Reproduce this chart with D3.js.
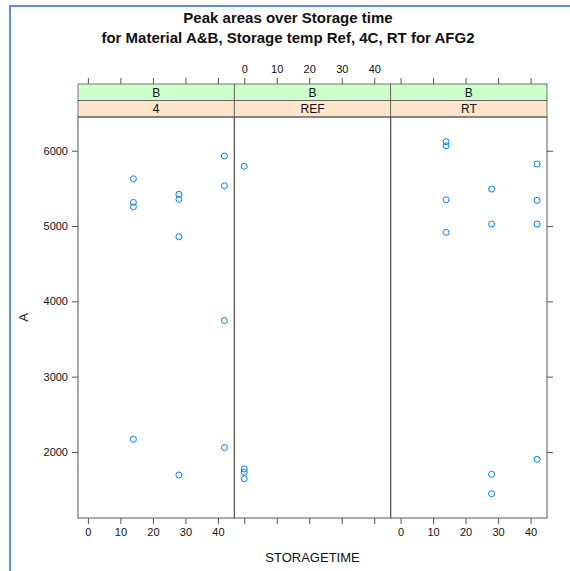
<!DOCTYPE html>
<html><head><meta charset="utf-8">
<script src="https://cdn.jsdelivr.net/npm/d3@7"></script>
<style>
body{margin:0;background:#fff;}
text{font-family:"Liberation Sans",Arial,sans-serif;}
</style></head>
<body><svg id="c" width="570" height="571"></svg>
<script>
// ---- data ----
const panelNames = ["4", "REF", "RT"];
const materialName = "B";
const time4 = [14, 14, 14, 14, 28, 28, 28, 28, 42, 42, 42, 42];
const area4 = [5628, 5314, 5256, 2169, 5421, 5354, 4857, 1694, 5930, 5535, 3746, 2058];
const timeREF = [0, 0, 0, 0];
const areaREF = [5793, 1775, 1730, 1645];
const timeRT = [14, 14, 14, 14, 28, 28, 28, 28, 42, 42, 42, 42];
const areaRT = [6120, 6066, 5349, 4916, 5491, 5026, 1703, 1446, 5823, 5341, 5026, 1903];
const xTicks = [0, 10, 20, 30, 40];
const yTicks = [2000, 3000, 4000, 5000, 6000];
const titleLines = ["Peak areas over Storage time", "for Material A&B, Storage temp Ref, 4C, RT for AFG2"];
const xLabel = "STORAGETIME", yLabel = "A";

const panelData = [
  time4.map((t, i) => ({t, a: area4[i]})),
  timeREF.map((t, i) => ({t, a: areaREF[i]})),
  timeRT.map((t, i) => ({t, a: areaRT[i]}))
];

// ---- layout ----
const svg = d3.select("#c");
const pLeft = 78, pRight = 547, pTop = 117, pBottom = 518;
const stripTop = 84, stripMid = 100.5;
const pw = (pRight - pLeft) / 3;
const x = d3.scaleLinear().domain([-3.05, 45.05]).range([0, pw]);
const y = d3.scaleLinear().domain([1123, 6448]).range([pBottom, pTop]);
const axisCol = "#555", txt = "#111";

// blue window frame
svg.append("line").attr("x1", 10).attr("x2", 10).attr("y1", 6).attr("y2", 571)
  .attr("stroke", "#5d8fd8").attr("stroke-width", 2);
svg.append("line").attr("x1", 9).attr("x2", 570).attr("y1", 6).attr("y2", 6)
  .attr("stroke", "#5d8fd8").attr("stroke-width", 2);

// title
titleLines.forEach((s, i) => {
  svg.append("text").attr("x", 288).attr("y", 23 + i * 20).attr("text-anchor", "middle")
    .attr("font-size", 15).attr("font-weight", "bold").attr("fill", txt).text(s);
});

panelNames.forEach((name, p) => {
  const x0 = pLeft + p * pw;
  const g = svg.append("g").attr("transform", `translate(${x0},0)`);
  // strips
  g.append("rect").attr("x", 0).attr("y", stripTop).attr("width", pw).attr("height", stripMid - stripTop)
    .attr("fill", "#ccffcc").attr("stroke", axisCol).attr("stroke-width", 0.8);
  g.append("rect").attr("x", 0).attr("y", stripMid).attr("width", pw).attr("height", pTop - stripMid)
    .attr("fill", "#ffe5cc").attr("stroke", axisCol).attr("stroke-width", 0.8);
  g.append("text").attr("x", pw / 2).attr("y", stripTop + 12.5).attr("text-anchor", "middle")
    .attr("font-size", 12).attr("fill", txt).text(materialName);
  g.append("text").attr("x", pw / 2).attr("y", stripMid + 12.5).attr("text-anchor", "middle")
    .attr("font-size", 12).attr("fill", txt).text(name);

  // panel box
  g.append("rect").attr("x", 0).attr("y", pTop).attr("width", pw).attr("height", pBottom - pTop)
    .attr("fill", "none").attr("stroke", axisCol).attr("stroke-width", 1);

  // bottom axis
  const ab = d3.axisBottom(x).tickValues(xTicks).tickSize(6).tickPadding(4)
    .tickFormat(p === 1 ? () => "" : d3.format("d"));
  const gb = g.append("g").attr("transform", `translate(0,${pBottom})`).call(ab);
  // top axis
  const at = d3.axisTop(x).tickValues(xTicks).tickSize(6).tickPadding(5)
    .tickFormat(p === 1 ? d3.format("d") : () => "");
  const gt = g.append("g").attr("transform", `translate(0,${stripTop})`).call(at);
  [gb, gt].forEach(a => {
    a.select(".domain").remove();
    a.selectAll("line").attr("stroke", axisCol);
    a.selectAll("text").attr("font-size", 11).attr("fill", txt).attr("font-family", "Liberation Sans, Arial, sans-serif");
  });

  // points
  g.selectAll("circle.pt").data(panelData[p]).join("circle")
    .attr("class", "pt")
    .attr("cx", d => x(d.t)).attr("cy", d => y(d.a)).attr("r", 3)
    .attr("fill", "none").attr("stroke", "#0080ff").attr("stroke-width", 1);
});

// y axes
const ay = d3.axisLeft(y).tickValues(yTicks).tickSize(6).tickPadding(4).tickFormat(d3.format("d"));
const gy = svg.append("g").attr("transform", `translate(${pLeft},0)`).call(ay);
const ayr = d3.axisRight(y).tickValues(yTicks).tickSize(6).tickFormat(() => "");
const gyr = svg.append("g").attr("transform", `translate(${pRight},0)`).call(ayr);
[gy, gyr].forEach(a => {
  a.select(".domain").remove();
  a.selectAll("line").attr("stroke", axisCol);
  a.selectAll("text").attr("font-size", 11).attr("fill", txt).attr("font-family", "Liberation Sans, Arial, sans-serif");
});

// axis titles
svg.append("text").attr("x", (pLeft + pRight) / 2).attr("y", 562).attr("text-anchor", "middle")
  .attr("font-size", 13).attr("fill", txt).text(xLabel);
svg.append("text").attr("transform", `translate(28,${(pTop + pBottom) / 2}) rotate(-90)`)
  .attr("text-anchor", "middle").attr("font-size", 13).attr("fill", txt).text(yLabel);
</script></body></html>
